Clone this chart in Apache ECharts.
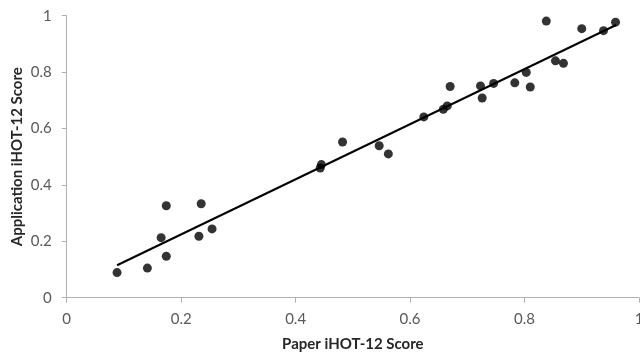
<!DOCTYPE html>
<html>
<head>
<meta charset="utf-8">
<script src="https://cdn.jsdelivr.net/npm/echarts@6/dist/echarts.min.js"></script>
<style>html,body{margin:0;padding:0;background:#fff}#c{width:640px;height:356px}</style>
</head>
<body>
<div id="c"></div>
<script>
const paperScores = [0.088, 0.141, 0.174, 0.165, 0.174, 0.235, 0.231, 0.254,
  0.443, 0.445, 0.482, 0.546, 0.562, 0.624, 0.658, 0.665, 0.670,
  0.723, 0.726, 0.746, 0.783, 0.803, 0.810, 0.854, 0.868,
  0.838, 0.900, 0.938, 0.959];
const appScores = [0.089, 0.105, 0.326, 0.213, 0.147, 0.333, 0.218, 0.244,
  0.460, 0.472, 0.552, 0.539, 0.510, 0.641, 0.668, 0.680, 0.749,
  0.751, 0.708, 0.760, 0.762, 0.799, 0.747, 0.840, 0.831,
  0.981, 0.954, 0.947, 0.977];
const trendX = [0.088, 0.960];
const trendY = [0.115, 0.967];
const xTicks = [0, 0.2, 0.4, 0.6, 0.8, 1];
const yTicks = [0, 0.2, 0.4, 0.6, 0.8, 1];

const fontFam = 'Lato, "Open Sans", sans-serif';
const chart = echarts.init(document.getElementById('c'), null, {renderer: 'canvas'});
const fmt = v => (v === 0 ? '0' : v === 1 ? '1' : String(+v.toFixed(1)));
chart.setOption({
  animation: false,
  grid: {left: 66.7, right: 1, top: 15.7, bottom: 58.3, containLabel: false, outerBoundsMode: 'none'},
  xAxis: {
    type: 'value', min: xTicks[0], max: xTicks[xTicks.length - 1], interval: 0.2,
    name: 'Paper iHOT-12 Score', nameLocation: 'middle', nameGap: 39, nameMoveOverlap: false,
    nameTextStyle: {fontFamily: fontFam, fontWeight: 'bold', fontSize: 15, color: '#262626'},
    axisLine: {lineStyle: {color: '#b0b0b0', width: 1}},
    axisTick: {show: true, length: 5, lineStyle: {color: '#b0b0b0'}},
    axisLabel: {fontFamily: fontFam, fontSize: 15, color: '#595959', margin: 14, formatter: fmt},
    splitLine: {show: false}
  },
  yAxis: {
    type: 'value', min: yTicks[0], max: yTicks[yTicks.length - 1], interval: 0.2,
    name: 'Application iHOT-12 Score', nameLocation: 'middle', nameGap: 42, nameMoveOverlap: false,
    nameTextStyle: {fontFamily: fontFam, fontWeight: 'bold', fontSize: 15, color: '#262626'},
    axisLine: {show: true, lineStyle: {color: '#b0b0b0', width: 1}},
    axisTick: {show: true, length: 5, lineStyle: {color: '#b0b0b0'}},
    axisLabel: {fontFamily: fontFam, fontSize: 15, color: '#595959', margin: 15, formatter: fmt},
    splitLine: {show: false}
  },
  series: [
    {
      type: 'scatter', symbol: 'circle', symbolSize: 9,
      itemStyle: {color: '#000'},
      data: paperScores.map((x, i) => [x, appScores[i]]),
      z: 3
    },
    {
      type: 'line', showSymbol: false, symbol: 'none',
      lineStyle: {color: '#000', width: 2},
      data: trendX.map((x, i) => [x, trendY[i]]),
      z: 2
    }
  ]
});
</script>
</body>
</html>
